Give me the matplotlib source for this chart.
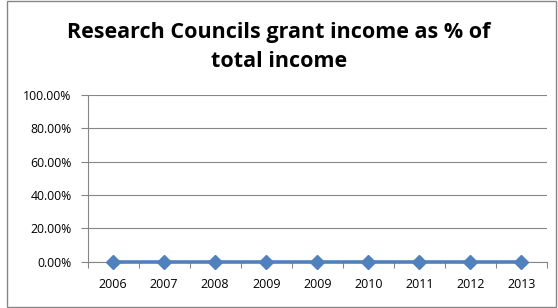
#!/usr/bin/env python3
"""Research Councils grant income as % of total income (Excel-style line chart)."""

import matplotlib

matplotlib.use("Agg")
import matplotlib.pyplot as plt
from matplotlib.patches import Rectangle
from matplotlib.ticker import FuncFormatter, FixedLocator

plt.rcParams["font.family"] = ["Open Sans", "DejaVu Sans"]

years = ["2006", "2007", "2008", "2009", "2009", "2010", "2011", "2012", "2013"]
share = [0.0, 0.0, 0.0, 0.0, 0.0, 0.0, 0.0, 0.0, 0.0]
y_ticks = [0.0, 0.2, 0.4, 0.6, 0.8, 1.0]

W, H = 558, 308
GREY = "#868686"
BLUE = "#4F81BD"

fig = plt.figure(figsize=(W / 100, H / 100), dpi=100)
fig.patch.set_facecolor("white")

# outer chart border
fig.add_artist(Rectangle((7 / W, 1 / H), (556 - 7) / W, (307 - 1) / H,
                         transform=fig.transFigure, fill=False,
                         edgecolor=GREY, linewidth=1.0))

left, right, top, bottom = 87.5, 547, 95, 261.7
ax = fig.add_axes([left / W, 1 - bottom / H, (right - left) / W, (bottom - top) / H])

x = list(range(len(years)))
ax.plot(x, share, color=BLUE, linewidth=2.6, marker="D", markersize=7,
        markerfacecolor=BLUE, markeredgecolor=BLUE, clip_on=False, zorder=3)

ax.set_xlim(-0.5, len(years) - 0.5)
ax.set_ylim(0, 1)
ax.set_yticks(y_ticks)
ax.yaxis.set_major_formatter(FuncFormatter(lambda v, _: f"{v * 100:.2f}%"))
ax.set_xticks(x)
ax.set_xticklabels(years)
ax.xaxis.set_minor_locator(FixedLocator([i - 0.5 for i in range(len(years) + 1)]))

ax.grid(axis="y", color=GREY, linewidth=0.8)
ax.set_axisbelow(True)
for side in ("top", "right"):
    ax.spines[side].set_visible(False)
for side in ("left", "bottom"):
    ax.spines[side].set_color(GREY)
    ax.spines[side].set_linewidth(0.8)

ax.tick_params(axis="y", length=5, width=0.8, color=GREY, pad=6.5, labelsize=8.8, labelcolor="black")
ax.tick_params(axis="x", which="major", length=0, pad=12, labelsize=9, labelcolor="black")
ax.tick_params(axis="x", which="minor", length=4, width=0.8, color=GREY)

fig.text(0.5, 1 - 47 / H, "Research Councils grant income as % of\ntotal income",
         ha="center", va="center", fontsize=15.5, fontweight="bold", linespacing=1.5)

fig.savefig("out.png", dpi=100)
